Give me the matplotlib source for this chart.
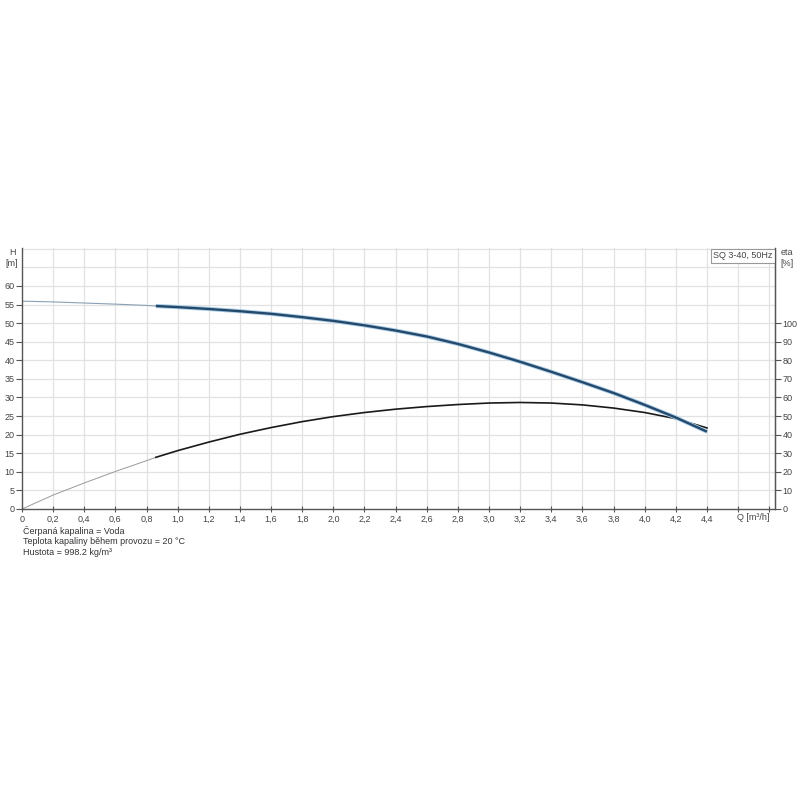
import matplotlib
matplotlib.use("Agg")
import matplotlib.pyplot as plt
import matplotlib.transforms as mtransforms
import numpy as np

# ---- data ----
Q = [0.0, 0.2, 0.4, 0.6, 0.8, 0.86, 1.0, 1.2, 1.4, 1.6, 1.8, 2.0, 2.2, 2.4,
     2.6, 2.8, 3.0, 3.2, 3.4, 3.6, 3.8, 4.0, 4.2, 4.4]
H = [55.9, 55.7, 55.4, 55.1, 54.75, 54.6, 54.3, 53.8, 53.2, 52.5, 51.6, 50.6,
     49.4, 48.0, 46.4, 44.4, 42.1, 39.6, 36.9, 34.1, 31.2, 28.0, 24.6, 20.8]
eta = [0.0, 7.5, 14.0, 20.2, 26.0, 27.8, 31.4, 36.0, 40.2, 43.8, 47.0, 49.7,
       51.9, 53.7, 55.1, 56.2, 57.0, 57.3, 57.0, 56.0, 54.3, 51.9, 48.6, 43.6]
thin_until = 0.86  # curves drawn thin up to this flow

x_ticks = [0.0, 0.2, 0.4, 0.6, 0.8, 1.0, 1.2, 1.4, 1.6, 1.8, 2.0, 2.2, 2.4,
           2.6, 2.8, 3.0, 3.2, 3.4, 3.6, 3.8, 4.0, 4.2, 4.4]
x_tick_labels = ["0", "0,2", "0,4", "0,6", "0,8", "1,0", "1,2", "1,4", "1,6",
                 "1,8", "2,0", "2,2", "2,4", "2,6", "2,8", "3,0", "3,2", "3,4",
                 "3,6", "3,8", "4,0", "4,2", "4,4"]
h_ticks = [0, 5, 10, 15, 20, 25, 30, 35, 40, 45, 50, 55, 60]
eta_ticks = [0, 10, 20, 30, 40, 50, 60, 70, 80, 90, 100]
info_lines = ["Čerpaná kapalina = Voda",
              "Teplota kapaliny během provozu = 20 °C",
              "Hustota = 998.2 kg/m³"]
title_box = "SQ 3-40, 50Hz"

plt.rcParams['font.family'] = ['Liberation Sans', 'DejaVu Sans']
FS = 6.5
TXT = "#444444"

fig = plt.figure(figsize=(8, 8), dpi=100)
fig.patch.set_facecolor("white")
ax = fig.add_axes([22/800, 1-509/800, (775-22)/800, (509-248)/800])
xmax = 4.837
ymax = 70.2
ax.set_xlim(0, xmax)
ax.set_ylim(0, ymax)

grid_c = "#e2e2e2"
for gx in np.arange(0.2, 4.81, 0.2):
    ax.axvline(gx, color=grid_c, lw=0.9, zorder=0)
for gy in range(5, 71, 5):
    ax.axhline(gy, color=grid_c, lw=0.9, zorder=0)

Qa = np.array(Q); Ha = np.array(H); Ea = np.array(eta)
thin = Qa <= thin_until + 1e-9
thick = Qa >= thin_until - 1e-9

# efficiency plotted on H scale (eta/2 matches the right axis)
ax.plot(Qa[thin], Ea[thin] / 2, color="#9a9a9a", lw=0.7, zorder=2)
ax.plot(Qa[thick], Ea[thick] / 2, color="#1a1a1a", lw=1.2, zorder=3)

ax.plot(Qa[thin], Ha[thin], color="#8aa0b4", lw=0.8, zorder=2)
ax.plot(Qa[thick], Ha[thick], color="#a9cbe6", lw=3.0, zorder=3,
        solid_capstyle="butt")
ax.plot(Qa[thick], Ha[thick], color="#24496b", lw=1.7, zorder=4,
        solid_capstyle="butt")

spine_c = "#555555"
for s in ["left", "bottom", "right"]:
    ax.spines[s].set_color(spine_c)
    ax.spines[s].set_linewidth(1.0)
ax.spines["top"].set_visible(False)

ax.set_xticks(x_ticks + [4.6, 4.8])
ax.set_xticklabels(x_tick_labels + ["", ""])
ax.set_yticks(h_ticks)
ax.set_yticklabels([str(t) for t in h_ticks])
ax.tick_params(axis="x", direction="inout", length=4, width=0.8,
               colors=spine_c, labelcolor=TXT, labelsize=FS, pad=2)
ax.tick_params(axis="y", direction="out", length=4, width=0.8,
               colors=spine_c, labelcolor=TXT, labelsize=FS, pad=1.5)

ax2 = ax.twinx()
ax2.set_ylim(0, ymax * 2)
ax2.set_yticks(eta_ticks)
ax2.set_yticklabels([str(t) for t in eta_ticks])
ax2.tick_params(axis="y", direction="out", length=4, width=0.8,
                colors=spine_c, labelcolor=TXT, labelsize=FS, pad=1.5)
for s in ["left", "top", "bottom"]:
    ax2.spines[s].set_visible(False)
ax2.spines["right"].set_color(spine_c)

# axis labels
fig.text(12/800, 1-253/800, "H", ha="center", va="center", fontsize=FS, color=TXT)
fig.text(12/800, 1-263/800, "[m]", ha="center", va="center", fontsize=FS, color=TXT)
fig.text(787/800, 1-253/800, "eta", ha="center", va="center", fontsize=FS, color=TXT)
fig.text(787/800, 1-263/800, "[%]", ha="center", va="center", fontsize=FS, color=TXT)

trans = mtransforms.blended_transform_factory(ax.transData, fig.transFigure)
ax.text(4.7, 1-517/800, "Q [m³/h]", transform=trans, ha="center", va="center",
        fontsize=FS, color=TXT)

# title box
ax.text(743/800, 1-256/800, title_box, transform=fig.transFigure, ha="center",
        va="center", fontsize=FS, color=TXT, zorder=6,
        bbox=dict(boxstyle="square,pad=0.3", fc="white", ec="#999999", lw=0.8))

for i, line in enumerate(info_lines):
    fig.text(23/800, 1-(531.5 + 10.3*i)/800, line, ha="left", va="center",
             fontsize=FS, color="#333333")

fig.savefig("out.png", dpi=100, facecolor="white")
